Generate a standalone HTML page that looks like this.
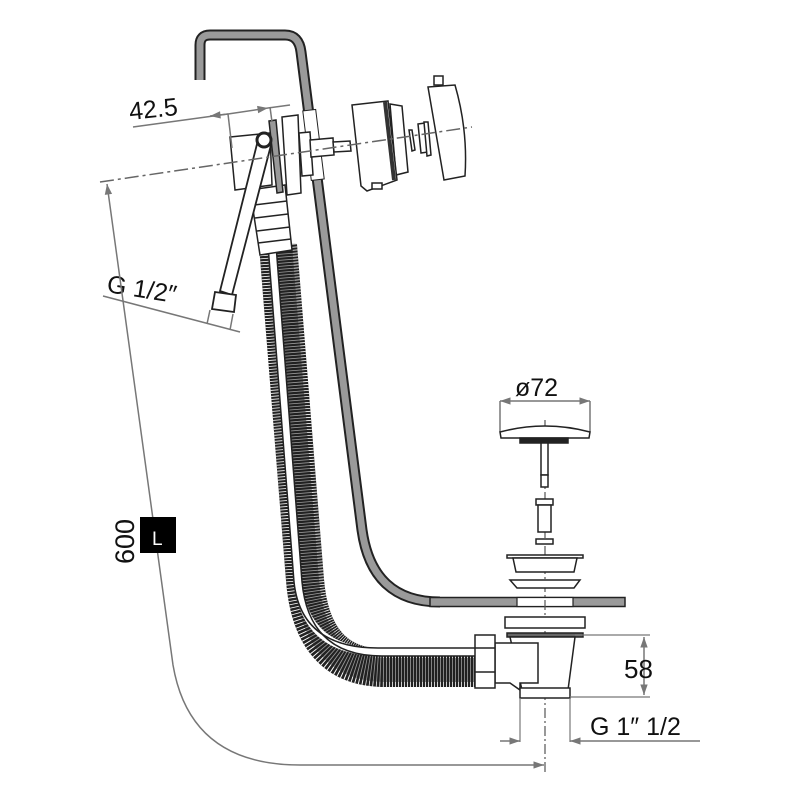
<!DOCTYPE html>
<html><head><meta charset="utf-8"><style>
html,body{margin:0;padding:0;background:#fff;}
svg{display:block;}
text{font-family:"Liberation Sans",sans-serif;fill:#111;}
</style></head><body>
<svg width="800" height="800" viewBox="0 0 800 800" xmlns="http://www.w3.org/2000/svg">
<defs>
<marker id="ar" viewBox="0 0 10 10" refX="10" refY="5" markerWidth="9" markerHeight="7" orient="auto-start-reverse"><path d="M0,1.5 L10,5 L0,8.5 z" fill="#777"/></marker>
</defs>

<path d="M200,80 V45 Q200,35 210,35 H285 Q299,35 301,52 L362,530 Q372,602 440,602 H440" fill="none" stroke="#222" stroke-width="11"/>
<path d="M200,80 V45 Q200,35 210,35 H285 Q299,35 301,52 L362,530 Q372,602 440,602 H440" fill="none" stroke="#9a9a9a" stroke-width="7"/>
<rect x="430" y="597.5" width="195" height="9" fill="#9a9a9a" stroke="#222" stroke-width="1.5"/>
<rect x="517" y="597.5" width="56" height="9" fill="#fff" stroke="#222" stroke-width="1.2"/>
<rect x="307" y="110" width="13" height="70" fill="#fff" stroke="#222" stroke-width="1" transform="rotate(-7 313 145)"/>

<!-- corrugated hose -->
<path d="M278,245 L305,580 Q312,668 385,668 H478" fill="none" stroke="#222" stroke-width="38"/>
<path d="M278,245 L305,580 Q312,668 385,668 H478" fill="none" stroke="#fff" stroke-width="38" stroke-dasharray="0.8 2.2"/>
<path d="M280,245 L307,580 Q314,670 386,670 H478" fill="none" stroke="#222" stroke-width="24" stroke-opacity="0.45"/>
<path d="M272,245 L298,582 Q305,652 380,652 H478" fill="none" stroke="#fff" stroke-width="8"/>
<path d="M268,245 L294,582 Q301,648 378,648 H478" fill="none" stroke="#222" stroke-width="1.5"/>
<path d="M276,245 L302,582 Q309,656 382,656 H478" fill="none" stroke="#222" stroke-width="1.5"/>
<g stroke="#222" stroke-width="1.5" fill="#fff">
<polygon points="250,190 285,185 292,250 260,255"/>
<line x1="254" y1="205" x2="287" y2="201"/>
<line x1="255" y1="218" x2="288" y2="214"/>
<line x1="257" y1="231" x2="290" y2="227"/>
<line x1="258" y1="243" x2="291" y2="239"/>
</g>

<g stroke="#222" stroke-width="1.5" fill="#fff">
<polygon points="230,137 270,133 272,185 235,190"/>
<polygon points="269,121 276,120 283,192 277,193" fill="#999"/>
<polygon points="282,117 298,115 301,193 287,195"/>
<polygon points="299,133 310,132 313,175 302,176"/>
<polygon points="310,140 333,138 334,155 311,157"/>
<polygon points="333,142 350,141 351,151 334,152"/>
<polygon points="390,104 402,106 408,172 396,175"/>
<polygon points="352,105 388,101 397,180 367,191 361,186"/>
<path d="M385,102 L394,180" stroke-width="4" stroke="#333"/>
<rect x="372" y="183" width="10" height="6"/>
<polygon points="409,130 412,130 415,150 412,151"/>
<polygon points="418,124 425,123 428,152 421,153"/>
<polygon points="424,122 428,122 431,155 427,156"/>
<path d="M428,87 L455,85 Q468,130 465,176 L444,180 Z"/>
<rect x="434" y="76" width="9" height="9"/>
</g>
<g stroke="#222" stroke-width="1.8" fill="#fff">
<polygon points="258,140 271,145 232,295 220,291"/>
<circle cx="264" cy="140" r="7" fill="#fff" stroke-width="3"/>
<polygon points="215,292 236,295 234,312 212,309"/>
</g>

<line x1="100" y1="182" x2="472" y2="127" stroke="#666" stroke-width="1.5" stroke-dasharray="14 4 3 4"/>
<line x1="545" y1="420" x2="545" y2="772" stroke="#555" stroke-width="1.2" stroke-dasharray="10 3 2 3"/>

<g stroke="#777" stroke-width="1.5" fill="none">
<line x1="133" y1="127" x2="228" y2="114"/>
<line x1="228" y1="114" x2="268" y2="108" marker-end="url(#ar)"/>
<line x1="268" y1="108" x2="290" y2="105"/>
<line x1="228" y1="114" x2="232" y2="148"/>
<line x1="270" y1="107" x2="272" y2="122"/>
<line x1="228" y1="114" x2="210" y2="116" marker-end="url(#ar)"/>
</g>
<text x="130" y="120" font-size="25" transform="rotate(-6 130 120)">42.5</text>

<g stroke="#777" stroke-width="1.5" fill="none">
<line x1="103" y1="296" x2="240" y2="332"/>
<line x1="210" y1="310" x2="207" y2="324"/>
<line x1="233" y1="314" x2="230" y2="330"/>
</g>
<text x="106" y="292" font-size="25" transform="rotate(9 106 292)">G 1/2″</text>

<path d="M107,184 L173,665 Q190,765 300,765 H544" fill="none" stroke="#777" stroke-width="1.5" marker-start="url(#ar)" marker-end="url(#ar)"/>
<rect x="140" y="517" width="36" height="36" fill="#000"/>
<text x="152" y="545" font-size="19" style="fill:#fff">L</text>
<text x="134" y="564" font-size="27" transform="rotate(-90 134 564)">600</text>

<text x="515" y="396" font-size="25">ø72</text>
<g stroke="#777" stroke-width="1.5">
<line x1="500" y1="401" x2="590" y2="401" marker-start="url(#ar)" marker-end="url(#ar)"/>
<line x1="500" y1="401" x2="500" y2="432"/>
<line x1="590" y1="401" x2="590" y2="432"/>
</g>
<g stroke="#222" stroke-width="1.5" fill="#fff">
<path d="M500,432 Q545,420 590,432 L589,438 L501,438 Z"/>
<rect x="520" y="438" width="48" height="5" fill="#222"/>
<rect x="541" y="443" width="7" height="32"/>
<rect x="541" y="475" width="7" height="12"/>
<rect x="536" y="499" width="17" height="6"/>
<rect x="538" y="505" width="13" height="27"/>
<rect x="536" y="539" width="17" height="5"/>
<rect x="507" y="555" width="76" height="3"/>
<polygon points="513,558 577,558 574,572 516,572"/>
<polygon points="510,580 580,580 574,588 517,588"/>
</g>

<g stroke="#222" stroke-width="1.5" fill="#fff">
<rect x="505" y="617" width="80" height="11"/>
<rect x="507" y="633" width="76" height="4" fill="#666"/>
<polygon points="510,637 575,637 568,690 522,690"/>
<polygon points="495,643 538,643 538,683 520,683 520,690 510,683 495,683"/>
<rect x="475" y="635" width="20" height="53"/>
<line x1="475" y1="648" x2="495" y2="648"/>
<line x1="475" y1="672" x2="495" y2="672"/>
<rect x="520" y="688" width="50" height="10"/>
</g>
<g stroke="#777" stroke-width="1.2">
<line x1="520" y1="698" x2="520" y2="742"/>
<line x1="570" y1="698" x2="570" y2="742"/>
<line x1="575" y1="635" x2="650" y2="635"/>
<line x1="570" y1="697" x2="650" y2="697"/>
<line x1="644" y1="637" x2="644" y2="695" stroke-width="1.5" marker-start="url(#ar)" marker-end="url(#ar)"/>
<line x1="500" y1="741" x2="520" y2="741" stroke-width="1.5" marker-end="url(#ar)"/>
<line x1="700" y1="741" x2="570" y2="741" stroke-width="1.5" marker-end="url(#ar)"/>
</g>
<text x="624" y="678" font-size="26">58</text>
<text x="590" y="735" font-size="25">G 1″ 1/2</text>
</svg>
</body></html>
